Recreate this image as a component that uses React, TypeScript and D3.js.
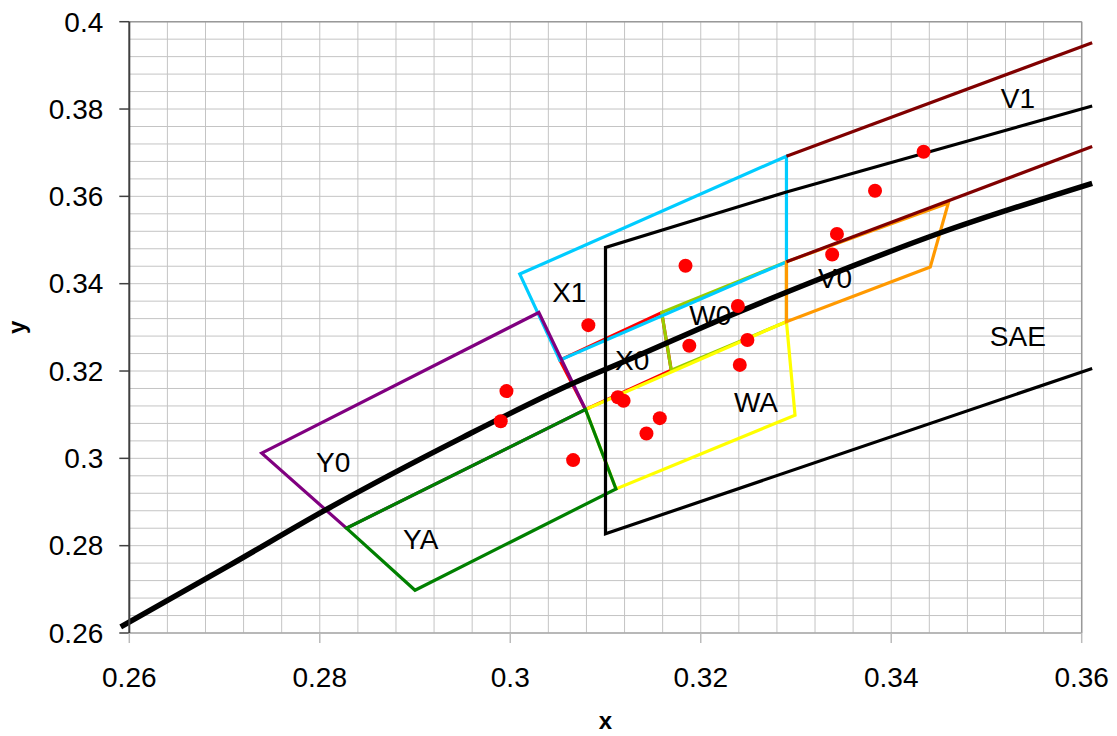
import React from "react";
import * as d3 from "d3";

type P = [number, number];

const xTicks = [0.26, 0.28, 0.3, 0.32, 0.34, 0.36];
const yTicks = [0.26, 0.28, 0.3, 0.32, 0.34, 0.36, 0.38, 0.4];
const xTickLabels = ["0.26", "0.28", "0.3", "0.32", "0.34", "0.36"];
const yTickLabels = ["0.26", "0.28", "0.3", "0.32", "0.34", "0.36", "0.38", "0.4"];

const planckX = [0.2591, 0.2706, 0.2807, 0.295, 0.3063, 0.3135, 0.3221, 0.3324, 0.3451, 0.3611];
const planckY = [0.2614, 0.2756, 0.2883, 0.3048, 0.3169, 0.3236, 0.3318, 0.341, 0.3516, 0.363];

const quadX1: P[] = [[0.301, 0.3422], [0.329, 0.3692], [0.329, 0.345], [0.3052, 0.3225]];
const quadX0: P[] = [[0.3052, 0.3225], [0.3159, 0.3334], [0.3169, 0.3202], [0.3079, 0.3112]];
const quadW0: P[] = [[0.3159, 0.3334], [0.329, 0.345], [0.329, 0.3313], [0.3169, 0.3202]];
const quadWA: P[] = [[0.3079, 0.3112], [0.329, 0.3313], [0.3299, 0.3099], [0.3111, 0.293]];
const quadY0: P[] = [[0.2739, 0.3012], [0.303, 0.3334], [0.3079, 0.3112], [0.2828, 0.284]];
const quadYA: P[] = [[0.2828, 0.284], [0.3079, 0.3112], [0.3111, 0.293], [0.29, 0.2698]];
const quadV0: P[] = [[0.329, 0.3313], [0.329, 0.345], [0.346, 0.3585], [0.3441, 0.3438]];

const v1Upper: P[] = [[0.329, 0.3692], [0.3611, 0.3952]];
const v1Lower: P[] = [[0.329, 0.345], [0.3611, 0.3714]];
const saeBoundary: P[] = [[0.3611, 0.3807], [0.329, 0.361], [0.31, 0.3483], [0.31, 0.2827], [0.3611, 0.3206]];

const dotX = [0.3434, 0.3383, 0.3343, 0.3338, 0.3184, 0.3082, 0.3239, 0.3188, 0.3249, 0.3241, 0.3113, 0.3119, 0.3157, 0.3143, 0.2996, 0.299, 0.3066];
const dotY = [0.3702, 0.3613, 0.3514, 0.3467, 0.3441, 0.3305, 0.3349, 0.3258, 0.3271, 0.3214, 0.314, 0.3132, 0.3092, 0.3057, 0.3154, 0.3085, 0.2996];

const labelText = ["V1", "V0", "W0", "X1", "X0", "WA", "SAE", "Y0", "YA"];
const labelX = [0.3533, 0.3341, 0.321, 0.3062, 0.3128, 0.3258, 0.3533, 0.2814, 0.2906];
const labelY = [0.3802, 0.3389, 0.3305, 0.3359, 0.3202, 0.3107, 0.3257, 0.2969, 0.2792];

const quads: { pts: P[]; color: string }[] = [
  { pts: quadX0, color: "#ff0000" },
  { pts: quadW0, color: "#99cc00" },
  { pts: quadWA, color: "#ffff00" },
  { pts: quadX1, color: "#00ccff" },
  { pts: quadY0, color: "#800080" },
  { pts: quadYA, color: "#008000" },
  { pts: quadV0, color: "#ff9900" },
];

export default function App() {
  const W = 1117, H = 736;
  const xs = d3.scaleLinear().domain([0.26, 0.36]).range([129.3, 1081.7]);
  const ys = d3.scaleLinear().domain([0.26, 0.4]).range([633, 21.7]);
  const line = d3.line<P>().x((d) => xs(d[0])).y((d) => ys(d[1]));
  const closed = d3.line<P>().x((d) => xs(d[0])).y((d) => ys(d[1])).curve(d3.curveLinearClosed);
  const smooth = d3.line<P>().x((d) => xs(d[0])).y((d) => ys(d[1])).curve(d3.curveMonotoneX);

  const minorX = d3.range(0, 26).map((i) => 0.26 + i * 0.004);
  const minorY = d3.range(0, 36).map((i) => 0.26 + i * 0.004);
  const planck: P[] = planckX.map((x, i) => [x, planckY[i]]);
  const font = "'Liberation Sans', Arial, sans-serif";
  const [x0, x1] = xs.range();
  const [y0, y1] = ys.range();

  return (
    <svg width={W} height={H} style={{ position: "absolute", left: 0, top: 0, background: "#fff" }} fontFamily={font}>
      <rect x={0} y={0} width={W} height={H} fill="#fff" />
      <g>
        {minorX.map((v, i) => (
          <line key={"gx" + i} x1={xs(v)} x2={xs(v)} y1={y1} y2={y0} stroke="#c4c4c4" strokeWidth={1} />
        ))}
        {minorY.map((v, i) => (
          <line key={"gy" + i} x1={x0} x2={x1} y1={ys(v)} y2={ys(v)} stroke="#c4c4c4" strokeWidth={1} />
        ))}
      </g>
      <line x1={x0} x2={x1} y1={y1} y2={y1} stroke="#999" strokeWidth={1.5} />
      <line x1={x1} x2={x1} y1={y1} y2={y0} stroke="#999" strokeWidth={1.5} />
      <line x1={x0} x2={x1} y1={y0} y2={y0} stroke="#aaa" strokeWidth={1.5} />

      {quads.map((q, i) => (
        <path key={"q" + i} d={closed(q.pts) || ""} fill="none" stroke={q.color} strokeWidth={3.2} strokeLinejoin="miter" />
      ))}
      <path d={line(v1Upper) || ""} fill="none" stroke="#800000" strokeWidth={3.2} />
      <path d={line(v1Lower) || ""} fill="none" stroke="#800000" strokeWidth={3.2} />
      <path d={line(saeBoundary) || ""} fill="none" stroke="#000" strokeWidth={3.2} />
      <path d={smooth(planck) || ""} fill="none" stroke="#000" strokeWidth={5.5} strokeLinejoin="round" />

      {dotX.map((x, i) => (
        <circle key={"d" + i} cx={xs(x)} cy={ys(dotY[i])} r={7} fill="#ff0000" />
      ))}

      {labelText.map((t, i) => (
        <text key={"l" + i} x={xs(labelX[i])} y={ys(labelY[i])} fontSize={28} textAnchor="middle" fill="#000">
          {t}
        </text>
      ))}

      <line x1={x0} x2={x0} y1={y1} y2={y0} stroke="#404040" strokeWidth={2} />
      {yTicks.map((v, i) => (
        <g key={"yt" + i}>
          <line x1={x0 - 10} x2={x0} y1={ys(v)} y2={ys(v)} stroke="#404040" strokeWidth={1.5} />
          <text x={x0 - 26} y={ys(v)} dy="0.35em" fontSize={28} textAnchor="end" fill="#000">
            {yTickLabels[i]}
          </text>
        </g>
      ))}
      {xTicks.map((v, i) => (
        <g key={"xt" + i}>
          <line x1={xs(v)} x2={xs(v)} y1={y0} y2={y0 + 10} stroke="#bbb" strokeWidth={1.5} />
          <text x={xs(v)} y={687} fontSize={28} textAnchor="middle" fill="#000">
            {xTickLabels[i]}
          </text>
        </g>
      ))}
      <text x={(x0 + x1) / 2} y={729} fontSize={24} fontWeight="bold" textAnchor="middle">x</text>
      <text transform={`translate(25, ${(y0 + y1) / 2}) rotate(-90)`} fontSize={24} fontWeight="bold" textAnchor="middle">y</text>
    </svg>
  );
}
